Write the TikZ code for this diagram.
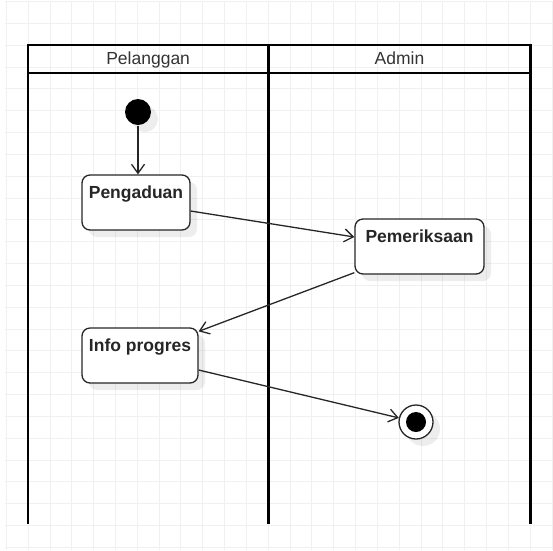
\documentclass[tikz,border=0pt]{standalone}
\usepackage{fontspec}
\setmainfont{Liberation Sans}
\usepackage{tikz}
\usetikzlibrary{positioning,calc}
\usetikzlibrary{arrows.meta,shapes,shadows}
\definecolor{gridgray}{HTML}{F0F0F0}
\definecolor{headtext}{HTML}{333333}
\tikzstyle{gridline} = [draw=gridgray,line width=0.9pt]
\tikzstyle{lanehead} = [rectangle,draw=black,line width=2.6pt,outer sep=0pt,inner sep=0pt,minimum height=28.2pt,text height=14.6pt,text depth=3.8pt,text=headtext,font=\fontsize{17.5}{20}\selectfont]
\tikzstyle{lane} = [draw=black,line width=2.6pt]
\tikzstyle{soft} = [drop shadow={shadow xshift=7pt,shadow yshift=-7pt,fill=black,opacity=0.07}]
\tikzstyle{block} = [rectangle,rounded corners=8pt,draw=black!85,line width=1.3pt,fill=white,soft,align=center,minimum height=55pt,inner ysep=0pt,text height=23.5pt,text depth=31.5pt,font=\fontsize{17.5}{20}\selectfont\bfseries]
\tikzstyle{startstate} = [circle,fill=black,minimum size=26pt,inner sep=0pt,soft]
\tikzstyle{endstate} = [circle,draw=black!85,line width=1.3pt,fill=white,minimum size=34pt,inner sep=0pt,soft,path picture={\fill[black] (path picture bounding box.center) circle (10pt);}]
\tikzstyle{line} = [color=black!85,line width=1.3pt,-{Straight Barb[length=9pt,width=13pt,line width=1.3pt]}]

\begin{document}
\begin{tikzpicture}[x=1pt,y=-1pt]
        \useasboundingbox (0,0) rectangle (553,550);
        % grid
        \foreach \i in {0,...,25} \draw[gridline] ({6.3+21.83*\i},1.6) -- ({6.3+21.83*\i},550);
        \foreach \j in {0,...,25} \draw[gridline] (5,{1.6+21.83*\j}) -- (553,{1.6+21.83*\j});
        % swimlanes
        \node[lanehead,minimum width=240.3pt] (pelanggan) at (148.15,58.9) {Pelanggan};
        \node[lanehead,minimum width=262.4pt] (admin) at (399.5,58.9) {Admin};
        \coordinate (bottom) at (0,524);
        \draw[lane] (pelanggan.north west) -- (pelanggan.north west |- bottom);
        \draw[lane] (pelanggan.north east) -- (pelanggan.north east |- bottom);
        \draw[lane] (admin.north east) -- (admin.north east |- bottom);
        % activities
        \path[line] node[startstate] (start) at (138,112) {};
        \path[line] node[block,minimum width=108pt] (pengaduan) at (136,202.5) {Pengaduan}
        (start) edge (start |- pengaduan.north);
        \path[line] node[block,minimum width=129pt] (pemeriksaan) at (419.5,246.5) {Pemeriksaan}
        ([yshift=-8.5pt]pengaduan.east) edge ([yshift=9.5pt]pemeriksaan.west);
        \path[line] node[block,minimum width=116pt] (info) at (140,355.5) {Info progres}
        ([yshift=2pt]pemeriksaan.south west) edge ([yshift=-4pt]info.north east);
        \path[line] node[endstate] (end) at (416,422) {}
        ([yshift=-14.5pt]info.east) edge (end);
    \end{tikzpicture}
\end{document}
